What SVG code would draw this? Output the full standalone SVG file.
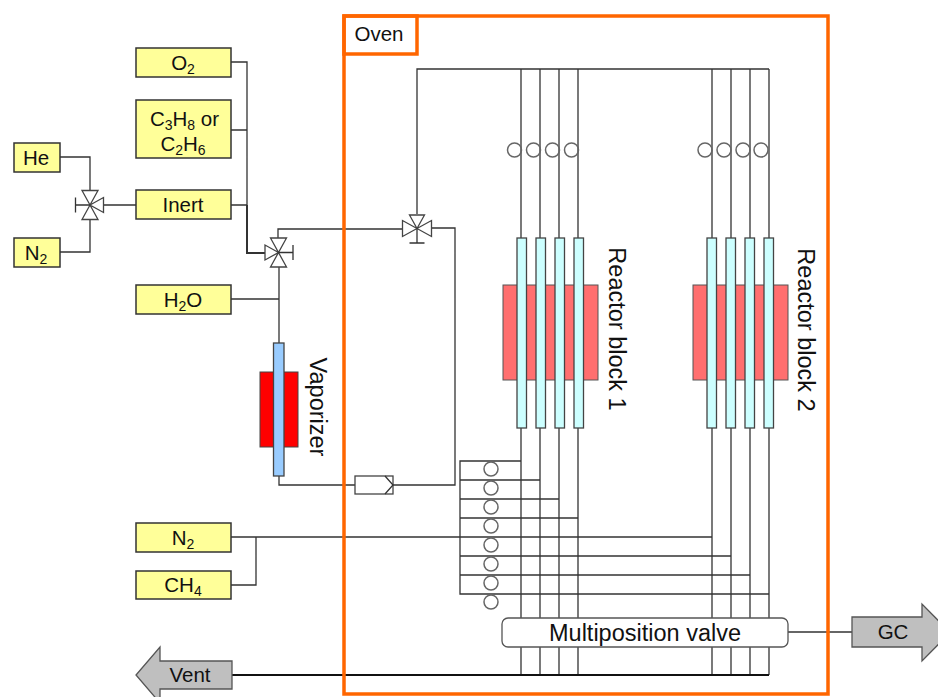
<svg xmlns="http://www.w3.org/2000/svg" width="938" height="697" viewBox="0 0 938 697">
<style>
text{font-family:"Liberation Sans",Arial,sans-serif;font-size:20.5px;fill:#111;text-anchor:middle}
.sub{font-size:14px}
.big{font-size:23.5px}
.box{fill:#FFFF99;stroke:#333;stroke-width:1.5}
.l{fill:none;stroke:#333;stroke-width:1.3}
.v{fill:#fff;stroke:#444;stroke-width:1.3}
.c{fill:none;stroke:#666;stroke-width:1.5}
.t{fill:#CCFFFF;stroke:#444;stroke-width:1.3}
.r{fill:#FF6F6F;stroke:#555;stroke-width:1}
.ar{fill:#BFBFBF;stroke:#555;stroke-width:1.3}
.ov{fill:none;stroke:#FF6600;stroke-width:3.5}
</style>
<defs>
<g id="valve"><path class="v" d="M-8-14.500H8L-8 14.500H8ZM0 0L-13.500-7.500V7.500Z"/><path class="l" d="M0 0H14.500M14.500-7.500V7.500"/></g>
<g id="ring"><circle class="c" r="7"/></g>
</defs>
<g id="reactor-block-1"><rect class="r" x="503" y="285" width="95" height="95"/></g>
<g id="reactor-block-2"><rect class="r" x="693" y="285" width="95" height="95"/></g>
<g id="connectors">
<path class="l" d="M231 62H247V253H265M231 130H247M231 205H247M136 205H103M60 157H90V190M60 252H90V219M231 299H279M278 238V229H402M279 267V343M279 476V485H355M393 485H455V228H432M417 214V69H769"/>
<path d="M247 205V253H265" fill="none" stroke="#333" stroke-width="2"/>
<path class="l" d="M521 69V238M540 69V238M559 69V238M578 69V238M712 69V238M731 69V238M750 69V238M769 69V238"/>
<path class="l" d="M521 428V675M540 428V675M559 428V675M578 428V675M712 428V675M731 428V675M750 428V675M769 428V675"/>
<path class="l" d="M521 461H460V594H769M540 480H460M559 499H460M578 518H460M712 537H231M731 556H460M750 575H460M231 585H256V537"/>
<path class="l" d="M788 632H852"/>
<path d="M232 675H769" fill="none" stroke="#111" stroke-width="2"/>
</g>
<g id="oven"><rect class="ov" x="344" y="16" width="484" height="678"/><rect class="ov" x="344" y="16" width="73" height="38"/><text x="379" y="41">Oven</text></g>
<g id="tubes-1"><rect class="t" x="517" y="238" width="9.500" height="190"/><rect class="t" x="536" y="238" width="9.500" height="190"/><rect class="t" x="555" y="238" width="9.500" height="190"/><rect class="t" x="574" y="238" width="9.500" height="190"/></g>
<g id="tubes-2"><rect class="t" x="707" y="238" width="9.500" height="190"/><rect class="t" x="726" y="238" width="9.500" height="190"/><rect class="t" x="745" y="238" width="9.500" height="190"/><rect class="t" x="764" y="238" width="9.500" height="190"/></g>
<g id="rings-top"><use href="#ring" x="514.500" y="150"/><use href="#ring" x="533.500" y="150"/><use href="#ring" x="552.500" y="150"/><use href="#ring" x="571.500" y="150"/><use href="#ring" x="705" y="150"/><use href="#ring" x="724" y="150"/><use href="#ring" x="743" y="150"/><use href="#ring" x="761" y="150"/></g>
<g id="rings-bottom"><use href="#ring" x="491" y="469"/><use href="#ring" x="491" y="488"/><use href="#ring" x="491" y="507"/><use href="#ring" x="491" y="526"/><use href="#ring" x="491" y="545"/><use href="#ring" x="491" y="564"/><use href="#ring" x="491" y="583"/><use href="#ring" x="491" y="602"/></g>
<g id="he"><rect class="box" x="14" y="143" width="46" height="29"/><text x="36" y="165">He</text></g>
<g id="n2-a"><rect class="box" x="14" y="238" width="46" height="29"/><text x="36" y="260">N<tspan class="sub" dy="4">2</tspan></text></g>
<g id="o2"><rect class="box" x="136" y="48" width="95" height="29"/><text x="183" y="70">O<tspan class="sub" dy="4">2</tspan></text></g>
<g id="c3h8"><rect class="box" x="136" y="100" width="95" height="58"/><text x="184.500" y="126">C<tspan class="sub" dy="4">3</tspan><tspan dy="-4">H</tspan><tspan class="sub" dy="4">8</tspan><tspan dy="-4"> or</tspan></text><text x="183" y="151">C<tspan class="sub" dy="4">2</tspan><tspan dy="-4">H</tspan><tspan class="sub" dy="4">6</tspan></text></g>
<g id="inert"><rect class="box" x="136" y="190" width="95" height="29"/><text x="183" y="212">Inert</text></g>
<g id="h2o"><rect class="box" x="136" y="285" width="95" height="29"/><text x="183" y="307">H<tspan class="sub" dy="4">2</tspan><tspan dy="-4">O</tspan></text></g>
<g id="n2-b"><rect class="box" x="136" y="523" width="95" height="29"/><text x="183" y="545">N<tspan class="sub" dy="4">2</tspan></text></g>
<g id="ch4"><rect class="box" x="136" y="571" width="95" height="28"/><text x="183" y="592">CH<tspan class="sub" dy="4">4</tspan></text></g>
<g id="valve-1"><use href="#valve" transform="translate(90 205) scale(-1 1)"/></g>
<g id="valve-2"><use href="#valve" transform="translate(278.500 252.500)"/></g>
<g id="valve-3"><use href="#valve" transform="translate(417 228.500) rotate(90)"/></g>
<g id="vaporizer"><rect x="260" y="372" width="38" height="75" fill="#FF0000" stroke="#444" stroke-width="1"/><rect x="273.500" y="343" width="10.500" height="133" fill="#99CCFF" stroke="#444" stroke-width="1.300"/><text class="big" transform="translate(310 407) rotate(90)">Vaporizer</text></g>
<g id="check-valve"><rect class="v" x="355" y="476" width="38" height="18"/><path class="l" d="M385 476L393 485L385 494"/></g>
<g id="label-1"><text class="big" transform="translate(609 329) rotate(90)">Reactor block 1</text></g>
<g id="label-2"><text class="big" transform="translate(798 330) rotate(90)">Reactor block 2</text></g>
<g id="multiposition-valve"><rect x="502" y="618" width="286" height="29" rx="6" fill="#fff" stroke="#555" stroke-width="1.300"/><text class="big" x="645" y="641">Multiposition valve</text></g>
<g id="gc"><path class="ar" d="M852 617H922V604L950 632.500L922 661V647H852Z"/><text x="893" y="639">GC</text></g>
<g id="vent"><path class="ar" d="M232 661H160V647L136 675L160 703V689H232Z"/><text x="190" y="682">Vent</text></g>
</svg>
